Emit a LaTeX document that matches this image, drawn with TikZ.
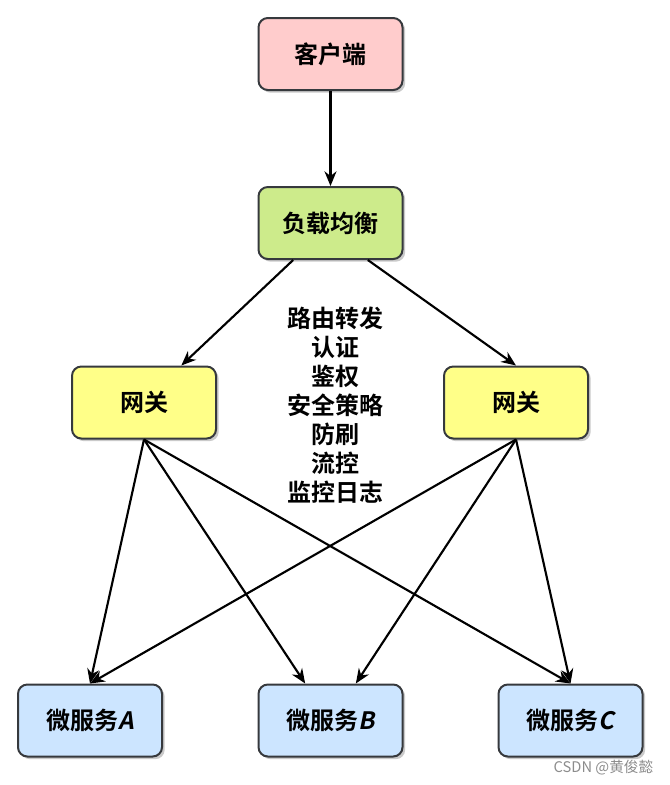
\documentclass[tikz,border=0pt]{standalone}
\usepackage{fontspec}
\setmainfont{Noto Sans CJK SC Bold}
\newfontfamily\slantfont{Noto Sans CJK SC Bold}[FakeSlant=0.2]
\newfontfamily\markfont{Noto Sans CJK SC}
\usetikzlibrary{
  arrows.meta,
  shadows
}
\definecolor{boxline}{HTML}{36393D}
\definecolor{clientfill}{HTML}{FFCCCC}
\definecolor{lbfill}{HTML}{CDEB8B}
\definecolor{gwfill}{HTML}{FFFF88}
\definecolor{svcfill}{HTML}{CCE5FF}

\begin{document}
\begin{tikzpicture}[x=0.75pt,y=-0.75pt,
  box/.style={rectangle,rounded corners=7pt,draw=boxline,line width=1.5pt,
    minimum width=108pt,minimum height=54pt,font=\fontsize{18}{21}\selectfont,
    drop shadow={shadow xshift=2pt,shadow yshift=-2pt,opacity=0.35,fill=black!60}},
  link/.style={-{Stealth[length=11pt,width=9pt]},line width=1.6pt}]
  \useasboundingbox (0,0) rectangle (670,785);
  % boxes
  \node[box,fill=clientfill] (client) at (330.5,54) {客户端};
  \node[box,fill=lbfill] (lb) at (330.5,223) {负载均衡};
  \node[box,fill=gwfill] (gw1) at (144,402.5) {网关};
  \node[box,fill=gwfill] (gw2) at (516,402.5) {网关};
  \node[box,fill=svcfill] (svcA) at (90,720.5) {微服务{\slantfont A}};
  \node[box,fill=svcfill] (svcB) at (330.5,720.5) {微服务{\slantfont B}};
  \node[box,fill=svcfill] (svcC) at (570.5,720.5) {微服务{\slantfont C}};
  % gateway duties
  \node[align=center,font=\fontsize{18}{21.75}\selectfont] (duty) at (335,405)
    {路由转发\\认证\\鉴权\\安全策略\\防刷\\流控\\监控日志};
  % connectors
  \draw[link] (client) -- (lb);
  \draw[link] ([xshift=-28pt]lb.south) -- ([xshift=28pt]gw1.north);
  \draw[link] ([xshift=28pt]lb.south) -- (gw2.north);
  \draw[link] (gw1.south) -- (svcA.north);
  \draw[link] (gw1.south) -- ([xshift=-19pt]svcB.north);
  \draw[link] (gw1.south) -- (svcC.north);
  \draw[link] (gw2.south) -- (svcA.north);
  \draw[link] (gw2.south) -- ([xshift=19pt]svcB.north);
  \draw[link] (gw2.south) -- (svcC.north);
  % watermark
  \node[anchor=east,text=black!45,font=\markfont\fontsize{11}{13}\selectfont] (mark) at (658,768) {CSDN @黄俊懿};
\end{tikzpicture}
\end{document}
